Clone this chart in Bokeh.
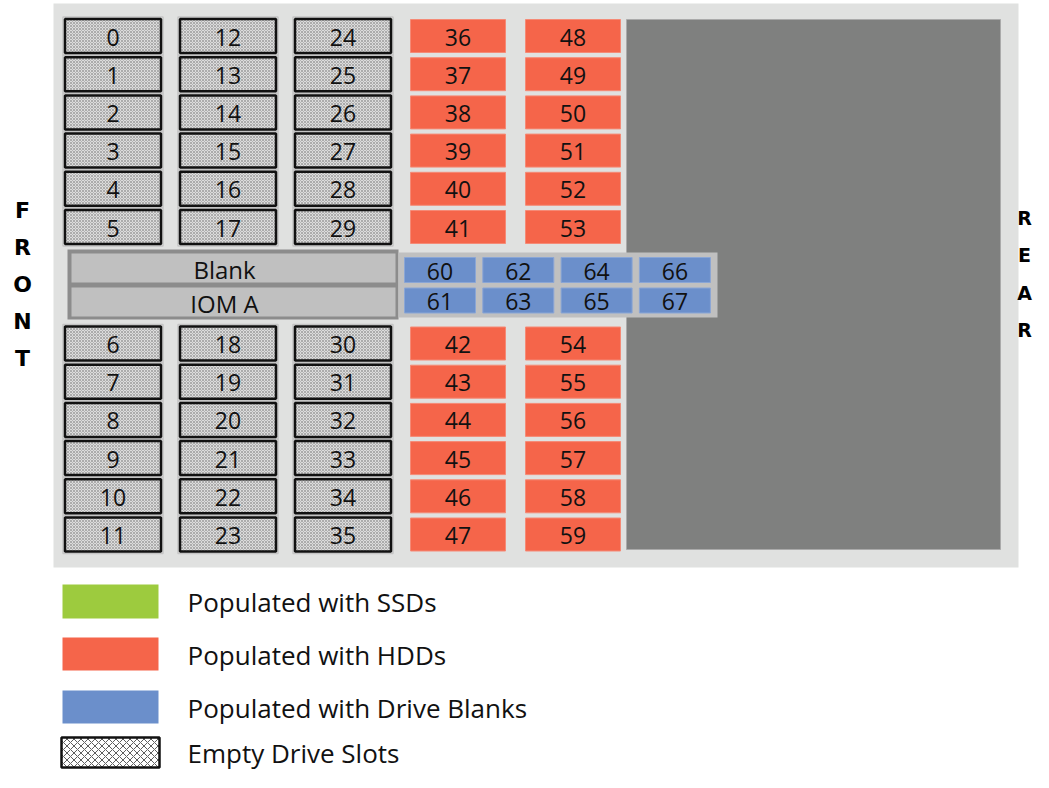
from bokeh.plotting import figure
from bokeh.models import Range1d, ColumnDataSource
from bokeh.core.properties import value
from bokeh.embed import file_html
from bokeh.resources import INLINE

# ---- data ----
empty_slots = list(range(0, 36))      # empty drive slots (hatched)
hdd_slots = list(range(36, 60))       # populated with HDDs
blank_slots = list(range(60, 68))     # populated with drive blanks
iom_labels = ["Blank", "IOM A"]
front_letters = ["F", "R", "O", "N", "T"]
rear_letters = ["R", "E", "A", "R"]
legend_labels = ["Populated with SSDs", "Populated with HDDs",
                 "Populated with Drive Blanks", "Empty Drive Slots"]

# ---- colours ----
C_BG = "#e0e1e0"
C_DARK = "#7f807f"
C_HDD = "#f5654a"
C_SSD = "#9dcb3e"
C_BLANK = "#6b8fcb"
C_CONT = "#c0c0c0"
C_FRAME = "#8c8c8c"
FONT = value("Open Sans")

p = figure(width=1033, height=772, x_range=Range1d(0, 1033), y_range=Range1d(772, 0),
           output_backend="svg", toolbar_location=None, min_border=0)
p.axis.visible = False
p.grid.visible = False
p.outline_line_color = None
p.background_fill_color = "white"
p.border_fill_color = "white"


def slot_pos(n):
    col = n // 12
    row = n % 12
    x = 112.5 + 115 * col
    y = 35.5 + 38.2 * row if row < 6 else 343 + 38.2 * (row - 6)
    return x, y


# chassis background
p.quad(left=[53], right=[1018], top=[3], bottom=[567], fill_color=C_BG, line_color=None)
p.quad(left=[626], right=[1000], top=[19], bottom=[549], fill_color=C_DARK,
       line_color="#aaaaaa", line_width=1)

# empty slots (hatched)
ex = [slot_pos(n)[0] for n in empty_slots]
ey = [slot_pos(n)[1] for n in empty_slots]
es = ColumnDataSource(dict(x=ex, y=ey, t=[str(n) for n in empty_slots]))
p.rect(x="x", y="y", width=100, height=38, source=es, fill_color=None,
       line_color="#c4c4c4", line_width=1.5)
p.rect(x="x", y="y", width=96, height=34, source=es, fill_color="#dcdcdc",
       hatch_pattern="x", hatch_scale=3, hatch_weight=0.5, hatch_color="#7a7a7a",
       line_color="#111111", line_width=2.5)
p.text(x="x", y="y", text="t", source=es, text_font=FONT, text_font_size="23px",
       text_align="center", text_baseline="middle", text_color="#111111", y_offset=1)

# HDD slots
hx = [slot_pos(n)[0] for n in hdd_slots]
hy = [slot_pos(n)[1] for n in hdd_slots]
hs = ColumnDataSource(dict(x=hx, y=hy, t=[str(n) for n in hdd_slots]))
p.rect(x="x", y="y", width=95, height=33, source=hs, fill_color=C_HDD,
       line_color="#f58a76", line_width=1)
p.text(x="x", y="y", text="t", source=hs, text_font=FONT, text_font_size="23px",
       text_align="center", text_baseline="middle", text_color="#111111", y_offset=1)

# IOM / Blank container
p.quad(left=[67], right=[398], top=[249], bottom=[319], fill_color=C_FRAME, line_color=None)
iy = [267.5, 301.5]
isrc = ColumnDataSource(dict(x=[233, 233], y=iy, t=iom_labels))
p.rect(x="x", y="y", width=324, height=29, source=isrc, fill_color=C_CONT, line_color=None)
p.text(x=[224, 224], y=iy, text=iom_labels, text_font=FONT, text_font_size="24px",
       text_align="center", text_baseline="middle", text_color="#111111", y_offset=1)

# Drive-blank container
p.quad(left=[398], right=[717], top=[252], bottom=[317], fill_color=C_CONT, line_color=None)
bx = [439.5 + 78.3 * ((n - 60) // 2) for n in blank_slots]
by = [269.5 + 30.5 * ((n - 60) % 2) for n in blank_slots]
bs = ColumnDataSource(dict(x=bx, y=by, t=[str(n) for n in blank_slots]))
p.rect(x="x", y="y", width=71, height=25, source=bs, fill_color=C_BLANK,
       line_color="#8aa6d6", line_width=1)
p.text(x="x", y="y", text="t", source=bs, text_font=FONT, text_font_size="23px",
       text_align="center", text_baseline="middle", text_color="#111111", y_offset=1)

# FRONT / REAR labels
fy = [210 + 37 * i for i in range(len(front_letters))]
p.text(x=[22] * len(front_letters), y=fy, text=front_letters, text_font=value("DejaVu Sans"),
       text_font_style="bold", text_font_size="22px", text_align="center",
       text_baseline="middle", text_color="#000000")
ry = [217 + 37.5 * i for i in range(len(rear_letters))]
p.text(x=[1024] * len(rear_letters), y=ry, text=rear_letters, text_font=value("DejaVu Sans"),
       text_font_style="bold", text_font_size="19px", text_align="center",
       text_baseline="middle", text_color="#000000")

# legend
p.quad(left=[62], right=[158], top=[584], bottom=[618], fill_color=C_SSD, line_color=None)
p.quad(left=[62], right=[158], top=[637], bottom=[670], fill_color=C_HDD, line_color=None)
p.quad(left=[62], right=[158], top=[690], bottom=[723], fill_color=C_BLANK, line_color=None)
p.quad(left=[61], right=[159], top=[737], bottom=[767], fill_color="white",
       hatch_pattern="x", hatch_scale=7, hatch_weight=0.8, hatch_color="#333333",
       line_color="#111111", line_width=2.5)
ly = [601, 654, 707, 752]
p.text(x=[187] * 4, y=ly, text=legend_labels, text_font=FONT, text_font_size="26px",
       text_align="left", text_baseline="middle", text_color="#111111")

open("out.html", "w").write(file_html(p, INLINE))
